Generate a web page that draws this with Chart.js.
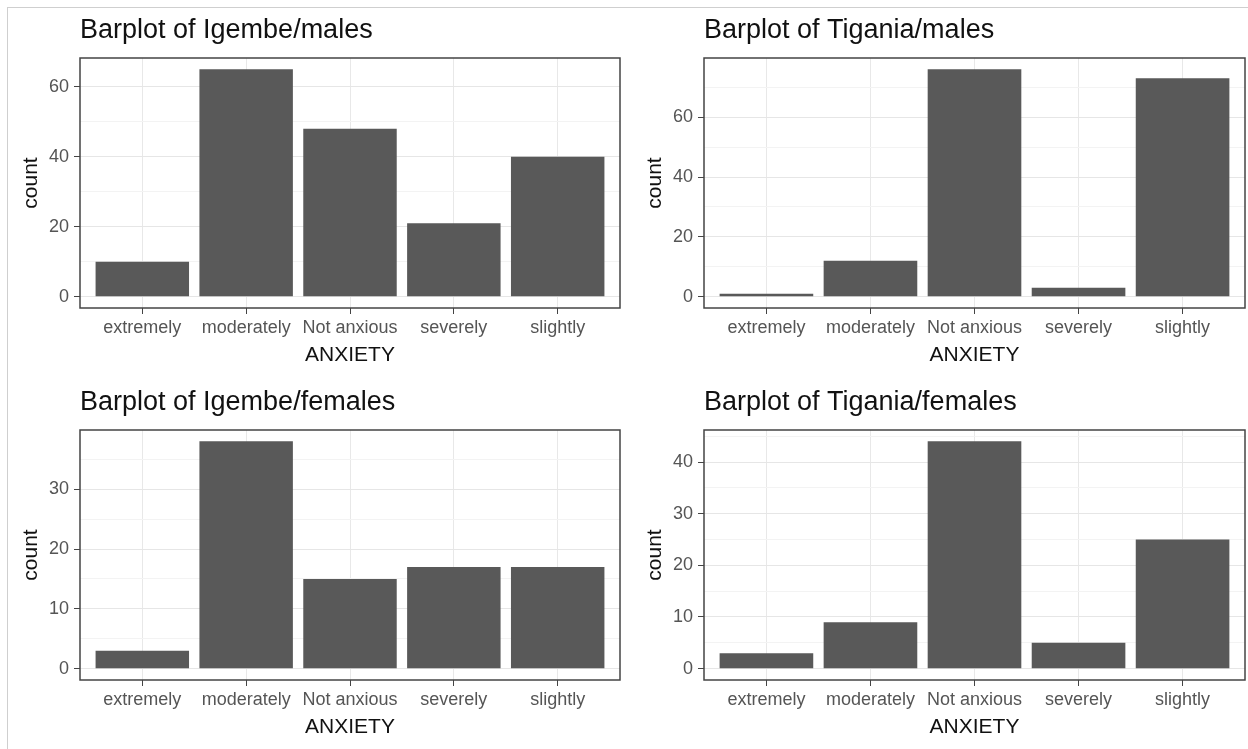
<!DOCTYPE html>
<html>
<head>
<meta charset="utf-8">
<script src="https://cdn.jsdelivr.net/npm/chart.js@4.4.1/dist/chart.umd.min.js"></script>
<style>
  body { margin: 0; background: #fff; width: 1248px; height: 749px; overflow: hidden; position: relative; }
  #frame { position: absolute; left: 7px; top: 7px; width: 1241px; height: 742px;
           border-top: 1px solid #cfcfcf; border-left: 1px solid #cfcfcf; }
  canvas { position: absolute; }
</style>
</head>
<body>
<div id="frame"></div>
<canvas id="igembeM" width="624" height="372" style="left:0;top:0"></canvas>
<canvas id="tiganiaM" width="624" height="372" style="left:624px;top:0"></canvas>
<canvas id="igembeF" width="624" height="372" style="left:0;top:372px"></canvas>
<canvas id="tiganiaF" width="624" height="372" style="left:624px;top:372px"></canvas>
<script>
const categories = ['extremely', 'moderately', 'Not anxious', 'severely', 'slightly'];

const igembeMales = [10, 65, 48, 21, 40];
const tiganiaMales = [1, 12, 76, 3, 73];
const igembeFemales = [3, 38, 15, 17, 17];
const tiganiaFemales = [3, 9, 44, 5, 25];

// major ticks (labelled) and minor grid lines
const igembeMalesTicks = [0, 20, 40, 60];
const igembeMalesMinor = [10, 30, 50];
const tiganiaMalesTicks = [0, 20, 40, 60];
const tiganiaMalesMinor = [10, 30, 50, 70];
const igembeFemalesTicks = [0, 10, 20, 30];
const igembeFemalesMinor = [5, 15, 25, 35];
const tiganiaFemalesTicks = [0, 10, 20, 30, 40];
const tiganiaFemalesMinor = [5, 15, 25, 35, 45];

const FONT = '"Liberation Sans", Arial, sans-serif';
Chart.defaults.font.family = FONT;

// panel border + title, like ggplot theme_bw
const panelPlugin = {
  id: 'panel',
  afterDraw(chart, args, opts) {
    const { ctx, chartArea: a } = chart;
    ctx.save();
    ctx.strokeStyle = '#444';
    ctx.lineWidth = 1.5;
    ctx.strokeRect(a.left, a.top, a.right - a.left, a.bottom - a.top);
    ctx.fillStyle = '#111';
    ctx.font = '27px ' + FONT;
    ctx.textAlign = 'left';
    ctx.textBaseline = 'middle';
    ctx.fillText(opts.text, a.left, 31);
    ctx.restore();
  }
};

function makeChart(id, title, values, majors, minors, rightPad) {
  const top = Math.max(...values);
  const allTicks = majors.concat(minors).sort((a, b) => a - b);
  const isMajor = c => c.tick && majors.includes(c.tick.value);

  new Chart(document.getElementById(id), {
    type: 'bar',
    data: {
      datasets: [{
        data: values.map((v, i) => ({ x: i + 1, y: v })),
        backgroundColor: '#595959',
        borderWidth: 0,
        barPercentage: 0.9,
        categoryPercentage: 1
      }]
    },
    plugins: [panelPlugin],
    options: {
      responsive: false,
      animation: false,
      devicePixelRatio: 1,
      layout: { padding: { left: 0, right: rightPad, top: 58, bottom: 0 } },
      plugins: {
        legend: { display: false },
        tooltip: { enabled: false },
        title: { display: false },
        panel: { text: title }
      },
      scales: {
        x: {
          type: 'linear',
          min: 0.4,
          max: 5.6,
          offset: false,
          afterBuildTicks: s => { s.ticks = categories.map((_, i) => ({ value: i + 1 })); },
          afterFit: s => { s.height = 64; },
          ticks: {
            autoSkip: false,
            maxRotation: 0,
            color: '#555',
            font: { size: 18 },
            padding: 3,
            callback: v => categories[v - 1]
          },
          grid: { offset: false, color: '#e8e8e8', tickColor: '#444', tickLength: 6 },
          border: { display: false },
          title: {
            display: true, text: 'ANXIETY', color: '#111',
            font: { size: 21 }, padding: { top: 0, bottom: 4 }
          }
        },
        y: {
          min: -0.05 * top,
          max: 1.05 * top,
          afterBuildTicks: s => { s.ticks = allTicks.map(v => ({ value: v })); },
          afterFit: s => { s.width = 80; },
          ticks: {
            color: '#555',
            font: { size: 18 },
            padding: 5,
            callback: v => majors.includes(v) ? String(v) : ''
          },
          grid: {
            color: c => isMajor(c) ? '#e6e6e6' : '#f3f3f3',
            tickColor: c => isMajor(c) ? '#444' : 'rgba(0,0,0,0)',
            tickLength: 6
          },
          border: { display: false },
          title: {
            display: true, text: 'count', color: '#111',
            font: { size: 21 }, padding: { top: 19, bottom: 0 }
          }
        }
      }
    }
  });
}

makeChart('igembeM', 'Barplot of Igembe/males', igembeMales, igembeMalesTicks, igembeMalesMinor, 4);
makeChart('tiganiaM', 'Barplot of Tigania/males', tiganiaMales, tiganiaMalesTicks, tiganiaMalesMinor, 3);
makeChart('igembeF', 'Barplot of Igembe/females', igembeFemales, igembeFemalesTicks, igembeFemalesMinor, 4);
makeChart('tiganiaF', 'Barplot of Tigania/females', tiganiaFemales, tiganiaFemalesTicks, tiganiaFemalesMinor, 3);
</script>
</body>
</html>
